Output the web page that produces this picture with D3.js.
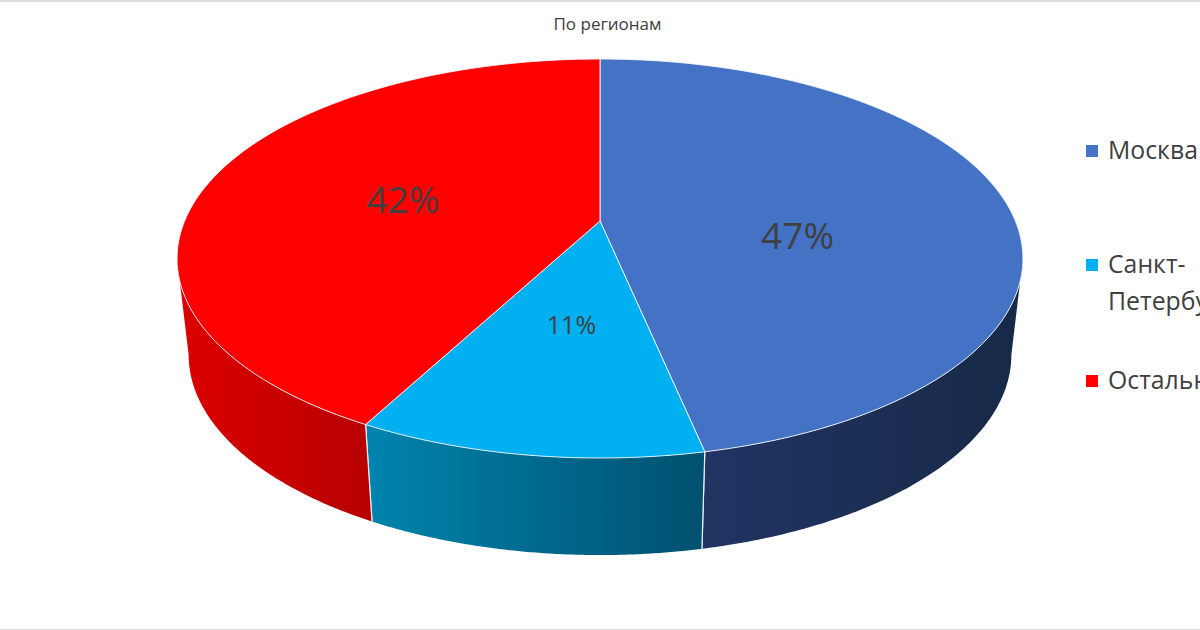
<!DOCTYPE html>
<html>
<head>
<meta charset="utf-8">
<script src="https://cdn.jsdelivr.net/npm/d3@7"></script>
<style>
html, body { margin: 0; padding: 0; background: #fff; overflow: hidden; }
text { font-family: "Open Sans", "Noto Sans", sans-serif; fill: #404040; }
</style>
</head>
<body>
<svg id="chart" width="1200" height="630"></svg>
<script>
// data
var chartTitle = "По регионам";
var categories = ["Москва", "Санкт-Петербург", "Остальные"];
var values = [46.7, 11.1, 42.2];
var valueLabels = ["47%", "11%", "42%"];
var legendLines = [["Москва"], ["Санкт-", "Петербург"], ["Остальные"]];
var topColors = ["#4472c4", "#00b0f0", "#ff0000"];
var sideLeftColors = ["#213463", "#0084ae", "#dd0000"];
var sideRightColors = ["#172947", "#00506f", "#b80000"];

var width = 1200, height = 630;
var svg = d3.select("#chart");

// grey lines at the top and bottom of the picture
svg.append("rect").attr("x", 0).attr("y", 0).attr("width", width).attr("height", 2).attr("fill", "#dedede");
svg.append("rect").attr("x", 0).attr("y", 629).attr("width", width).attr("height", 1).attr("fill", "#dedede");

svg.append("text")
    .attr("x", 607.5)
    .attr("y", 30)
    .attr("text-anchor", "middle")
    .style("font-size", "17px")
    .text(chartTitle);

// pie is tilted with perspective, so unit circle goes through a small projective map
var tilt = -0.188;
function projector(xScale, yA, yB) {
    return function (u, v) {
        var w = 1 + tilt * v;
        return [600 + xScale * u / w, (yA * v + yB) / w];
    };
}
var topFace = projector(415.4, 150.9, 221);
var bottomFace = projector(404, 133.3, 317.4);

var color = d3.scaleOrdinal().domain(categories).range(topColors);
var pie = d3.pie().sort(null).value(function (d) { return d; });
var arcs = pie(values);
var line = d3.line();

// points along the rim between two angles (clockwise from 12 o'clock)
function rim(face, a0, a1) {
    return d3.range(0, 121).map(function (i) {
        var a = a0 + (a1 - a0) * i / 120;
        return face(Math.sin(a), -Math.cos(a));
    });
}

// the side wall only shows between the silhouette angles
var wallFrom = Math.PI * 0.56, wallTo = Math.PI * 1.44;

var defs = svg.append("defs");
var walls = svg.append("g").attr("id", "walls");
arcs.forEach(function (d, i) {
    var a0 = Math.max(d.startAngle, wallFrom), a1 = Math.min(d.endAngle, wallTo);
    if (a1 <= a0) return;
    var top = rim(topFace, a0, a1), bottom = rim(bottomFace, a0, a1);
    var grad = defs.append("linearGradient")
        .attr("id", "wall" + i)
        .attr("gradientUnits", "userSpaceOnUse")
        .attr("x1", d3.min(top, function (p) { return p[0]; }))
        .attr("x2", d3.max(top, function (p) { return p[0]; }))
        .attr("y1", 0).attr("y2", 0);
    grad.append("stop").attr("offset", 0).attr("stop-color", sideLeftColors[i]);
    grad.append("stop").attr("offset", 1).attr("stop-color", sideRightColors[i]);

    walls.append("path")
        .attr("d", line(top.concat(bottom.slice().reverse())) + "Z")
        .attr("fill", "url(#wall" + i + ")");
    // white seams between wall pieces
    [d.startAngle, d.endAngle].forEach(function (a) {
        if (a <= wallFrom || a >= wallTo) return;
        walls.append("path")
            .attr("d", line([topFace(Math.sin(a), -Math.cos(a)), bottomFace(Math.sin(a), -Math.cos(a))]))
            .attr("fill", "none")
            .attr("stroke", "#e8eef5")
            .attr("stroke-width", 1.2);
    });
});

var faces = svg.append("g").attr("id", "faces");
arcs.forEach(function (d, i) {
    var pts = [topFace(0, 0)].concat(rim(topFace, d.startAngle, d.endAngle));
    faces.append("path")
        .attr("d", line(pts) + "Z")
        .attr("fill", color(categories[i]))
        .attr("stroke", "#f4f6fa")
        .attr("stroke-width", 0.9)
        .attr("stroke-linejoin", "round");
});

// labels sit about halfway out along each slice
var labelRadius = 0.49;
var labelSizes = [37, 25, 37];
var labelNudge = [[-3, 23], [3, 0], [-4, 0]];
svg.append("g").attr("id", "labels").selectAll("text")
    .data(arcs)
    .enter()
    .append("text")
    .attr("text-anchor", "middle")
    .attr("dominant-baseline", "central")
    .attr("transform", function (d, i) {
        var mid = (d.startAngle + d.endAngle) / 2;
        var p = topFace(labelRadius * Math.sin(mid), -labelRadius * Math.cos(mid));
        return "translate(" + (p[0] + labelNudge[i][0]) + "," + (p[1] + labelNudge[i][1]) + ")";
    })
    .style("font-size", function (d, i) { return labelSizes[i] + "px"; })
    .text(function (d, i) { return valueLabels[i]; });

// legend, runs off the right edge like the original
var legendY = [151, 265, 381];
var legend = svg.append("g").attr("id", "legend");
categories.forEach(function (c, i) {
    legend.append("rect")
        .attr("x", 1086)
        .attr("y", legendY[i] - 6)
        .attr("width", 12)
        .attr("height", 12)
        .attr("fill", topColors[i]);
    legendLines[i].forEach(function (t, j) {
        legend.append("text")
            .attr("x", 1108)
            .attr("y", legendY[i] + 8 + j * 37)
            .style("font-size", "24.8px")
            .text(t);
    });
});
</script>
</body>
</html>
